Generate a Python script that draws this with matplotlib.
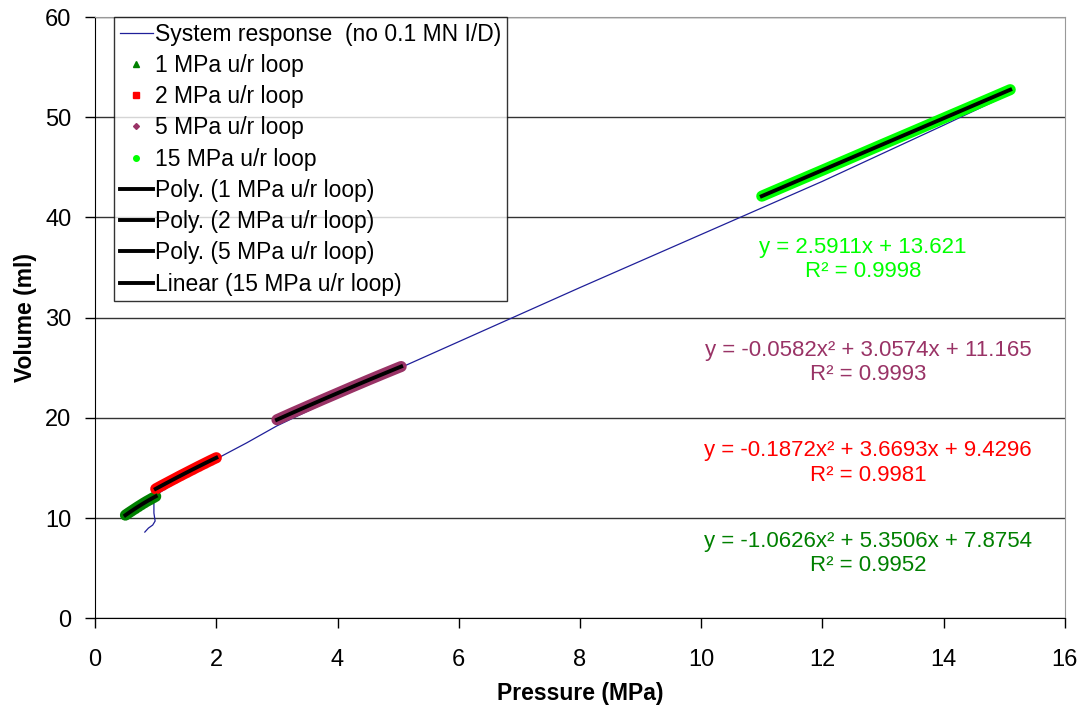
import matplotlib.pyplot as plt
import numpy as np

plt.rcParams['font.family'] = ['Liberation Sans', 'DejaVu Sans']

# system response (blue line)
sys_p = [0.82, 0.88, 0.95, 0.99, 0.97, 0.97, 1.0, 1.5, 2.0, 2.5, 3.0, 4.0, 5.0, 6.0, 8.0, 10.0, 12.0, 14.0, 15.05]
sys_v = [8.6, 9.0, 9.3, 9.7, 10.5, 12.0, 12.3, 14.2, 15.9, 17.5, 19.2, 22.1, 24.9, 27.6, 33.0, 38.3, 43.6, 49.2, 52.2]

# unload/reload loops
p1 = [0.50, 0.55, 0.60, 0.65, 0.70, 0.75, 0.80, 0.85, 0.90, 0.95, 1.00]
v1 = [10.29, 10.50, 10.70, 10.90, 11.10, 11.29, 11.48, 11.66, 11.83, 12.00, 12.16]
p2 = [1.0, 1.1, 1.2, 1.3, 1.4, 1.5, 1.6, 1.7, 1.8, 1.9, 2.0]
v2 = [12.91, 13.24, 13.56, 13.88, 14.20, 14.51, 14.82, 15.13, 15.43, 15.73, 16.02]
p5 = [3.0, 3.25, 3.5, 3.75, 4.0, 4.25, 4.5, 4.75, 5.0, 5.05]
v5 = [19.81, 20.49, 21.15, 21.81, 22.46, 23.11, 23.75, 24.38, 25.00, 25.12]
p15 = [11.0, 11.5, 12.0, 12.5, 13.0, 13.5, 14.0, 14.5, 15.0, 15.1]
v15 = [42.12, 43.42, 44.71, 46.01, 47.31, 48.60, 49.90, 51.19, 52.49, 52.75]

# trendline coefficients (highest power first), as printed on the chart
fit1 = [-1.0626, 5.3506, 7.8754]
fit2 = [-0.1872, 3.6693, 9.4296]
fit5 = [-0.0582, 3.0574, 11.165]
fit15 = [2.5911, 13.621]

eq1 = 'y = -1.0626x² + 5.3506x + 7.8754\nR² = 0.9952'
eq2 = 'y = -0.1872x² + 3.6693x + 9.4296\nR² = 0.9981'
eq5 = 'y = -0.0582x² + 3.0574x + 11.165\nR² = 0.9993'
eq15 = 'y = 2.5911x + 13.621\nR² = 0.9998'

c1 = '#008000'
c2 = '#ff0000'
c5 = '#993366'
c15 = '#00ff00'

fig = plt.figure(figsize=(10.81, 7.09), dpi=100)
ax = fig.add_axes([0.088, 0.128, 0.897, 0.848])

ax.plot(sys_p, sys_v, color='#1f1f99', lw=0.9, label='System response  (no 0.1 MN I/D)')

# dense markers look like a band
for p, v, c in [(p1, v1, c1), (p2, v2, c2), (p5, v5, c5), (p15, v15, c15)]:
    ax.plot(p, v, color=c, lw=8, solid_capstyle='round', zorder=3)

ax.plot(p1, v1, ls='none', marker='^', ms=4, color=c1, label='1 MPa u/r loop', zorder=3)
ax.plot(p2, v2, ls='none', marker='s', ms=4, color=c2, label='2 MPa u/r loop', zorder=3)
ax.plot(p5, v5, ls='none', marker='D', ms=3, color=c5, label='5 MPa u/r loop', zorder=3)
ax.plot(p15, v15, ls='none', marker='o', ms=4, color=c15, label='15 MPa u/r loop', zorder=3)

for p, f, lab in [(p1, fit1, 'Poly. (1 MPa u/r loop)'), (p2, fit2, 'Poly. (2 MPa u/r loop)'),
                  (p5, fit5, 'Poly. (5 MPa u/r loop)'), (p15, fit15, 'Linear (15 MPa u/r loop)')]:
    xx = np.linspace(p[0], p[-1], 50)
    ax.plot(xx, np.polyval(f, xx), color='black', lw=2.8, label=lab, zorder=4)

tkw = dict(fontsize=16, ha='center', va='center', linespacing=1.2)
ax.text(12.67, 35.8, eq15, color=c15, **tkw)
ax.text(12.75, 25.5, eq5, color=c5, **tkw)
ax.text(12.75, 15.5, eq2, color=c2, **tkw)
ax.text(12.75, 6.5, eq1, color=c1, **tkw)

ax.set_xlim(0, 16)
ax.set_ylim(0, 60)
ax.set_xticks(range(0, 17, 2))
ax.set_yticks(range(0, 61, 10))
ax.tick_params(labelsize=17, direction='out', length=7, width=1)
ax.tick_params(axis='y', pad=10)
ax.tick_params(axis='x', pad=15)
ax.yaxis.grid(True, color='#333333', lw=1)
ax.set_axisbelow(True)
for s in ['top', 'right']:
    ax.spines[s].set_color('#999999')
ax.set_xlabel('Pressure (MPa)', fontsize=16.5, fontweight='bold', labelpad=8)
ax.set_ylabel('Volume (ml)', fontsize=16.5, fontweight='bold', labelpad=6)

leg = ax.legend(loc='upper left', bbox_to_anchor=(0.0195, 1.0), fontsize=16.5, frameon=True,
                fancybox=False, edgecolor='black', handlelength=1.45, handletextpad=0.1,
                labelspacing=0.36, borderpad=0.25, borderaxespad=0)
leg.get_frame().set_linewidth(1)

fig.savefig('out.png', dpi=100)
